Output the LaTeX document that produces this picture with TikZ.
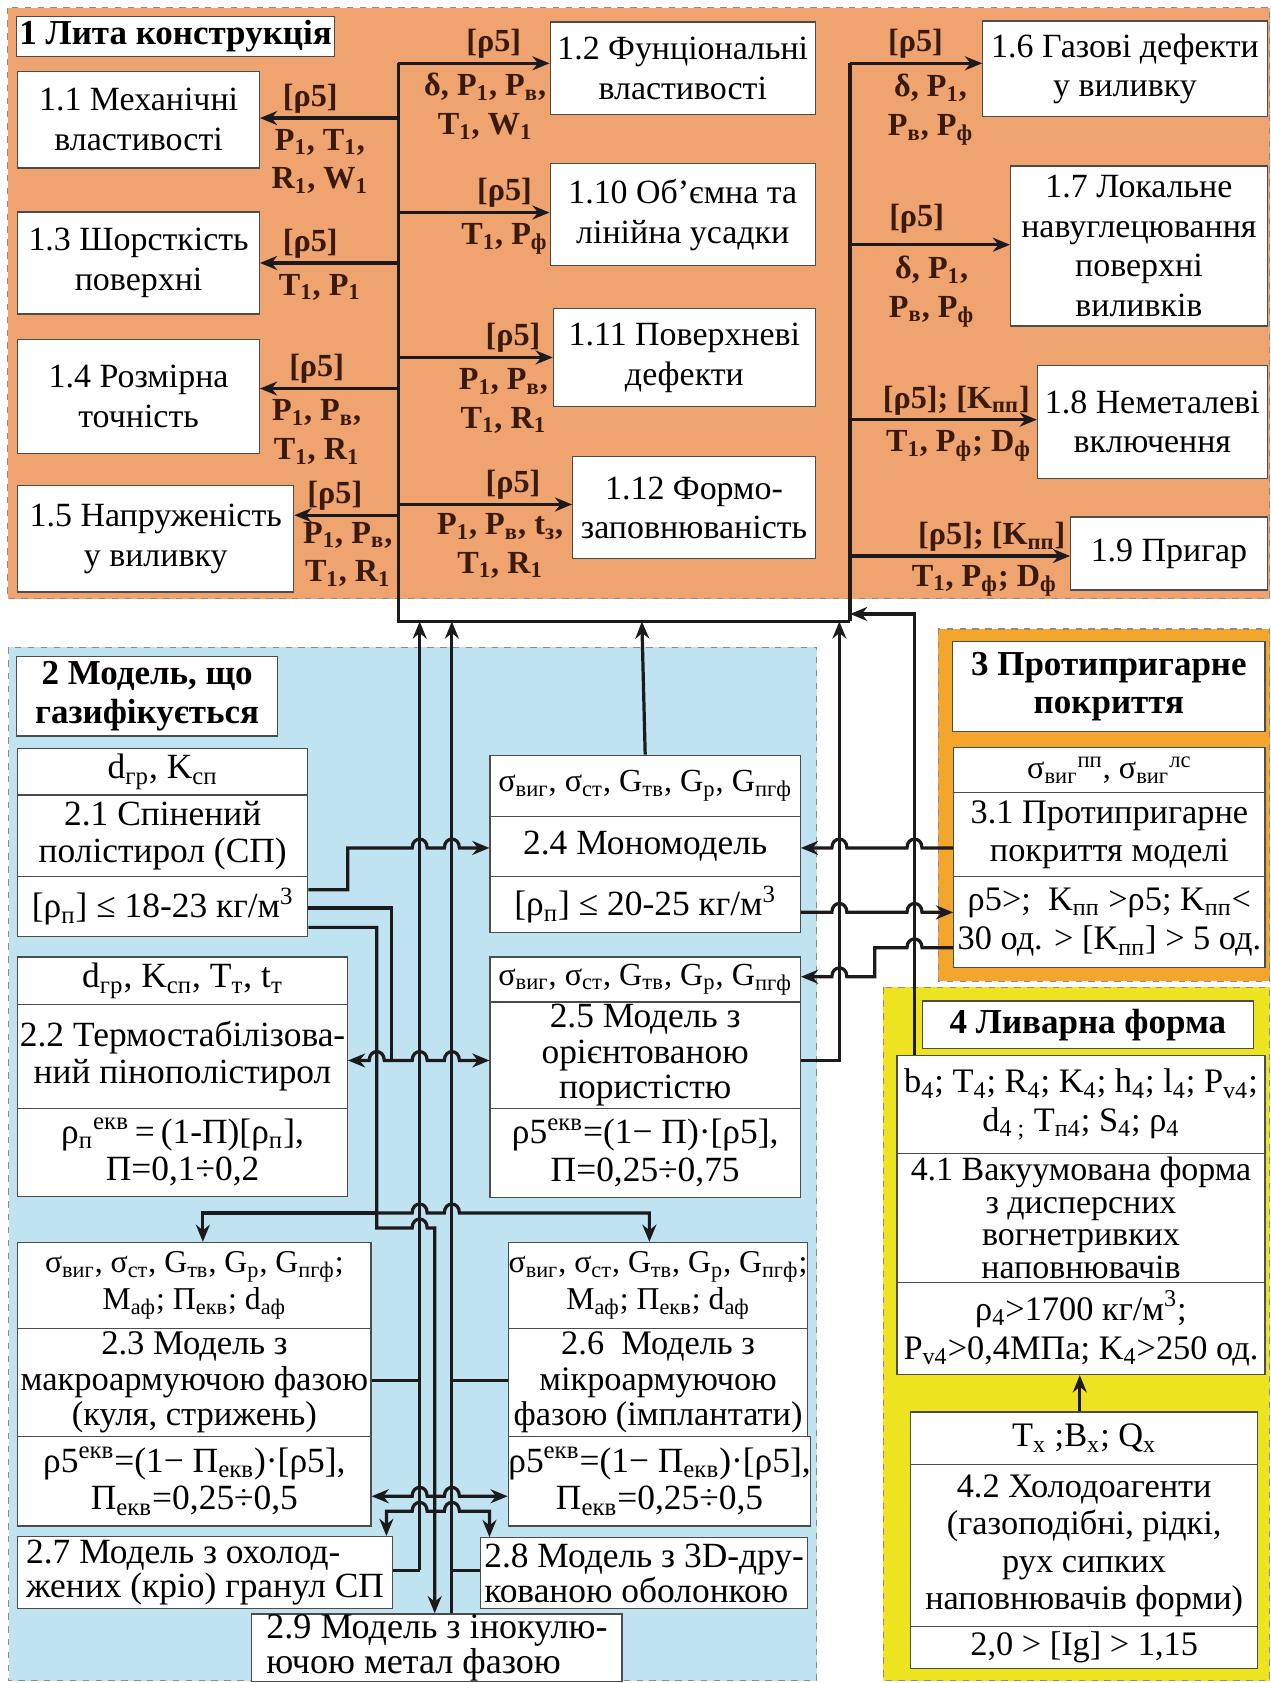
\documentclass[tikz,border=0pt]{standalone}
\usepackage{fontspec}
\setmainfont{Liberation Serif}
\usetikzlibrary{arrows.meta}
\definecolor{orA}{HTML}{EFA36E}
\definecolor{blB}{HTML}{BFE3F1}
\definecolor{orC}{HTML}{F4A62C}
\definecolor{yeD}{HTML}{EEE31F}
\definecolor{lab}{HTML}{3A1A0C}
\definecolor{wire}{HTML}{1C1A1A}
\newcommand\sub[1]{\textsubscript{#1}}
\newcommand\sups[1]{\textsuperscript{#1}}
\newcommand\bx[7][]{\node[box,minimum width={(#5-#3)*0.5pt},minimum height={(#6-#4)*0.5pt},#1] (#2) at (#3,#4) {#7};}
\newcommand\hopR[2]{-- ({#1-7},#2) .. controls ({#1-7},{#2-11}) and ({#1+7},{#2-11}) .. ({#1+7},#2)}
\newcommand\hopL[2]{-- ({#1+7},#2) .. controls ({#1+7},{#2-11}) and ({#1-7},{#2-11}) .. ({#1-7},#2)}
\begin{document}
\begin{tikzpicture}[x=0.5pt,y=-0.5pt,
  region/.style={draw=black!45, dashed, line width=0.5pt},
  box/.style={draw=black!70, fill=white, line width=0.6pt, inner sep=0pt, align=center,
     font=\fontsize{15.8}{17}\selectfont, anchor=north west},
  fA/.style={font=\fontsize{15.8}{18.5}\selectfont},
  fB/.style={font=\fontsize{16.5}{17.5}\selectfont},
  fS/.style={font=\fontsize{15}{17}\selectfont},
  fT/.style={font=\fontsize{14.8}{17}\selectfont},
  head/.style={font=\bfseries\fontsize{16.3}{18}\selectfont},
  lbl/.style={text=lab, font=\bfseries\fontsize{15}{18}\selectfont, inner sep=1pt, align=center},
  arr/.style={line width=1.5pt, draw=wire, -{Stealth[length=8pt,width=6.5pt]}},
  ln/.style={line width=1.5pt, draw=wire},
]
\useasboundingbox (0,0) rectangle (1184,1568);
\fill[white] (0,0) rectangle (1184,1568);
% ---------- regions
\fill[orA] (7,7) rectangle (1183,558);  \draw[region] (7,7) rectangle (1183,558);
\fill[blB] (8,603) rectangle (761,1566); \draw[region] (8,603) rectangle (761,1566);
\fill[orC] (874,586) rectangle (1183,914); \draw[region] (874,586) rectangle (1183,914);
\fill[yeD] (823,920) rectangle (1183,1566); \draw[region] (823,920) rectangle (1183,1566);

% ---------- section 1
\bx[head]{t1}{15}{15}{311}{52}{1 Лита конструкція}
\bx[fA]{b11}{16}{66}{241}{156}{1.1 Механічні\\властивості}
\bx[fA]{b13}{16}{197}{241}{292}{1.3 Шорсткість\\поверхні}
\bx[fA]{b14}{16}{316}{241}{422}{1.4 Розмірна\\точність}
\bx[fA]{b15}{16}{452}{273}{551}{1.5 Напруженість\\у виливку}
\bx[fA]{b12}{512}{20}{759}{106}{1.2 Фунціональні\\властивості}
\bx[fA]{b110}{512}{152}{759}{247}{1.10 Об’ємна та\\лінійна усадки}
\bx[fA]{b111}{515}{287}{759}{378}{1.11 Поверхневі\\дефекти}
\bx[fA]{b112}{533}{425}{759}{520}{1.12 Формо-\\заповнюваність}
\bx[fA]{b16}{915}{19}{1180}{108}{1.6 Газові дефекти\\у виливку}
\bx[fA]{b17}{941}{154}{1180}{303}{1.7 Локальне\\навуглецювання\\поверхні\\виливків}
\bx[fA]{b18}{966}{340}{1180}{445}{1.8 Неметалеві\\включення}
\bx[fA]{b19}{997}{481}{1180}{549}{1.9 Пригар}

% buses
\draw[ln] (371,59) -- (371,579) -- (792,579);
\draw[ln] (792,59) -- (792,579);
\draw[arr] (371,59) -- (b12.west |- 0,59);
\draw[arr] (371,110) -- (b11.east |- 0,110);
\draw[arr] (371,198) -- (b110.west |- 0,198);
\draw[arr] (371,245) -- (b13.east |- 0,245);
\draw[arr] (371,333) -- (b111.west |- 0,333);
\draw[arr] (371,362) -- (b14.east |- 0,362);
\draw[arr] (371,470) -- (b112.west |- 0,470);
\draw[arr] (371,480) -- (b15.east |- 0,480);
\draw[arr] (792,59) -- (b16.west |- 0,59);
\draw[arr] (792,228) -- (b17.west |- 0,228);
\draw[arr] (792,391) -- (b18.west |- 0,391);
\draw[arr] (792,518) -- (b19.west |- 0,518);

% labels
\node[lbl,anchor=south] at (289,108) {[ρ5]};
\node[lbl,anchor=north] at (298,118) {P\sub1, T\sub1,\\R\sub1, W\sub1};
\node[lbl,anchor=south] at (289,243) {[ρ5]};
\node[lbl,anchor=north] at (298,253) {T\sub1, P\sub1};
\node[lbl,anchor=south] at (295,360) {[ρ5]};
\node[lbl,anchor=north] at (295,370) {P\sub1, P\sub{в},\\T\sub1, R\sub1};
\node[lbl,anchor=south] at (312,478) {[ρ5]};
\node[lbl,anchor=north] at (324,484) {P\sub1, P\sub{в},\\T\sub1, R\sub1};
\node[lbl,anchor=south] at (460,57) {[ρ5]};
\node[lbl,anchor=north] at (452,66) {δ, P\sub1, P\sub{в},\\T\sub1, W\sub1};
\node[lbl,anchor=south] at (470,196) {[ρ5]};
\node[lbl,anchor=north] at (470,206) {T\sub1, P\sub{ф}};
\node[lbl,anchor=south] at (478,331) {[ρ5]};
\node[lbl,anchor=north] at (469,341) {P\sub1, P\sub{в},\\T\sub1, R\sub1};
\node[lbl,anchor=south] at (478,468) {[ρ5]};
\node[lbl,anchor=north] at (466,476) {P\sub1, P\sub{в}, t\sub{з},\\T\sub1, R\sub1};
\node[lbl,anchor=south] at (853,57) {[ρ5]};
\node[lbl,anchor=north] at (867,67) {δ, P\sub1,\\P\sub{в}, P\sub{ф}};
\node[lbl,anchor=south] at (854,220) {[ρ5]};
\node[lbl,anchor=north] at (868,236) {δ, P\sub1,\\P\sub{в}, P\sub{ф}};
\node[lbl,anchor=south] at (891,389) {[ρ5]; [K\sub{пп}]};
\node[lbl,anchor=north] at (893,399) {T\sub1, P\sub{ф}; D\sub{ф}};
\node[lbl,anchor=south] at (924,516) {[ρ5]; [K\sub{пп}]};
\node[lbl,anchor=north] at (917,524) {T\sub1, P\sub{ф}; D\sub{ф}};

% ---------- section 2
\bx[head]{t2}{15}{611}{258}{685}{2 Модель, що\\газифікується}
\bx[fB]{b21a}{16}{697}{286}{740}{d\sub{гр}, K\sub{сп}}
\bx[fB]{b21b}{16}{740}{286}{816}{2.1 Спінений\\полістирол (СП)}
\bx[fB]{b21c}{16}{816}{286}{872}{[ρ\sub{п}] ≤ 18-23 кг/м\sups{3}}
\bx[fB]{b22a}{16}{891}{323}{935}{d\sub{гр}, K\sub{сп}, T\sub{т}, t\sub{т}}
\bx[fB]{b22b}{16}{935}{323}{1032}{2.2 Термостабілізова-\\ний пінополістирол}
\bx[fB]{b22c}{16}{1032}{323}{1114}{ρ\sub{п}\sups{екв}\,=\,(1-П)[ρ\sub{п}],\\П=0,1÷0,2}
\bx[fT]{b23a}{16}{1157}{345}{1237}{σ\sub{виг}, σ\sub{ст}, G\sub{тв}, G\sub{р}, G\sub{пгф};\\M\sub{аф}; П\sub{екв}; d\sub{аф}}
\bx[font=\fontsize{16.1}{16.5}\selectfont]{b23b}{16}{1237}{345}{1338}{2.3 Модель з\\макроармуючою фазою\\(куля, стрижень)}
\bx[fB]{b23c}{16}{1338}{345}{1421}{ρ5\sups{екв}=(1− П\sub{екв})·[ρ5],\\П\sub{екв}=0,25÷0,5}
\bx[align=left,font=\fontsize{16.5}{16}\selectfont]{b27}{16}{1431}{365}{1498}{2.7 Модель з охолод-\\жених (кріо) гранул СП}
\bx[align=left,font=\fontsize{16.8}{14.5}\selectfont]{b29}{234}{1503}{579}{1566}{2.9 Модель з інокулю-\\ючою метал фазою}
\bx[fS]{b24a}{456}{703}{745}{760}{σ\sub{виг}, σ\sub{ст}, G\sub{тв}, G\sub{р}, G\sub{пгф}}
\bx[fB]{b24b}{456}{760}{745}{816}{2.4 Мономодель}
\bx[fB]{b24c}{456}{816}{745}{868}{[ρ\sub{п}] ≤ 20-25 кг/м\sups{3}}
\bx[fS]{b25a}{456}{891}{745}{933}{σ\sub{виг}, σ\sub{ст}, G\sub{тв}, G\sub{р}, G\sub{пгф}}
\bx[font=\fontsize{16.5}{16.5}\selectfont]{b25b}{456}{933}{745}{1032}{2.5 Модель з\\орієнтованою\\пористістю}
\bx[fB]{b25c}{456}{1032}{745}{1115}{ρ5\sups{екв}=(1− П)·[ρ5],\\П=0,25÷0,75}
\bx[fT]{b26a}{473}{1157}{752}{1237}{σ\sub{виг}, σ\sub{ст}, G\sub{тв}, G\sub{р}, G\sub{пгф};\\M\sub{аф}; П\sub{екв}; d\sub{аф}}
\bx[font=\fontsize{16}{16.5}\selectfont]{b26b}{473}{1237}{752}{1338}{2.6\ \ Модель з\\мікроармуючою\\фазою (імплантати)}
\bx[fB]{b26c}{473}{1338}{752}{1421}{ρ5\sups{екв}=(1− П\sub{екв})·[ρ5],\\П\sub{екв}=0,25÷0,5}
\bx[align=left,font=\fontsize{16.5}{14}\selectfont]{b28}{447}{1432}{752}{1498}{2.8 Модель з 3D-дру-\\кованою оболонкою}

% ---------- section 3
\bx[head]{t3}{887}{597}{1178}{681}{3 Протипригарне\\покриття}
\bx[fS]{b31a}{888}{696}{1178}{738}{σ\sub{виг}\sups{пп}, σ\sub{виг}\sups{лс}}
\bx[font=\fontsize{16}{18}\selectfont]{b31b}{888}{738}{1178}{816}{3.1 Протипригарне\\покриття моделі}
\bx[font=\fontsize{16}{18.5}\selectfont]{b31c}{888}{816}{1178}{901}{ρ5>;\ \ K\sub{пп} >ρ5; K\sub{пп}<\\30 од. > [K\sub{пп}] > 5 од.}

% ---------- section 4
\bx[head]{t4}{859}{932}{1167}{976}{4 Ливарна форма}
\bx[font=\fontsize{16}{18}\selectfont]{b41a}{835}{983}{1178}{1074}{b\sub4; T\sub4; R\sub4; K\sub4; h\sub4; l\sub4; P\sub{v4};\\d\sub{4 ;} T\sub{п4}; S\sub4; ρ\sub4}
\bx[font=\fontsize{15.8}{15.2}\selectfont]{b41b}{835}{1074}{1178}{1194}{4.1 Вакуумована форма\\з дисперсних\\вогнетривких\\наповнювачів}
\bx[font=\fontsize{16}{18}\selectfont]{b41c}{835}{1194}{1178}{1280}{ρ\sub4>1700 кг/м\sups3;\\P\sub{v4}>0,4МПа; K\sub4>250 од.}
\bx[font=\fontsize{16}{17}\selectfont]{b42a}{848}{1315}{1171}{1364}{T\sub{x} ;B\sub{x}; Q\sub{x}}
\bx[font=\fontsize{16}{17.5}\selectfont]{b42b}{848}{1364}{1171}{1515}{4.2 Холодоагенти\\(газоподібні, рідкі,\\рух сипких\\наповнювачів форми)}
\bx[font=\fontsize{16}{17}\selectfont]{b42c}{848}{1515}{1171}{1554}{2,0 > [Ig] > 1,15}

% ---------- wires, section 2
\draw[arr] (b24a.north) -- (598,579);
\draw[arr] (391,1463) -- (391,579);
\draw[arr] (421,1503) -- (421,579);
\draw[ln] (b23b.east |- 0,1286) -- (391,1286);
\draw[ln] (b27.east |- 0,1463) -- (391,1463);
\draw[ln] (b26b.west |- 0,1286) -- (421,1286);
\draw[ln] (b28.west |- 0,1463) -- (421,1463);
% from 2.1
\draw[arr] (b21c.east |- 0,829) -- (324,829) -- (324,790) \hopR{391}{790} \hopR{421}{790} -- (b24b.west |- 0,790);
\draw[ln] (b21c.east |- 0,846) -- (365,846) -- (365,988);
\draw[arr] (365,988) \hopL{351}{988} -- (b22b.east |- 0,988);
\draw[arr] (365,988) \hopR{391}{988} \hopR{421}{988} -- (b25b.west |- 0,988);
\draw[arr] (b21c.east |- 0,864) -- (351,864) -- (351,1144) \hopR{391}{1144} -- (405,1144) -- (405,1503);
\draw[arr] (351,1130) -- (189,1130) -- (b23a.north -| 189,0);
\draw[arr] (351,1130) \hopR{391}{1130} \hopR{421}{1130} -- (605,1130) -- (b26a.north -| 605,0);
\draw[arr] (405,1394) \hopL{391}{1394} -- (b23c.east |- 0,1394);
\draw[arr] (405,1394) \hopR{421}{1394} -- (b26c.west |- 0,1394);
\draw[arr] (405,1408) \hopL{391}{1408} -- (360,1408) -- (b27.north -| 360,0);
\draw[arr] (405,1408) \hopR{421}{1408} -- (456,1408) -- (b28.north -| 456,0);
% right side
\draw[arr] (b25b.east |- 0,988) -- (782,988) -- (782,579);
\draw[arr] (b31b.west |- 0,790) \hopL{852}{790} \hopL{782}{790} -- (b24b.east |- 0,790);
\draw[arr] (b24c.east |- 0,850) \hopR{782}{850} \hopR{852}{850} -- (b31c.west |- 0,850);
\draw[arr] (b31c.west |- 0,883) \hopL{852}{883} -- (815,883) -- (815,910) \hopL{782}{910} -- (b25a.east |- 0,910);
\draw[arr] (b41a.north -| 852,0) -- (852,572) -- (792,572);
\draw[arr] (b42a.north -| 1006,0) -- (b41c.south -| 1006,0);
\end{tikzpicture}
\end{document}
